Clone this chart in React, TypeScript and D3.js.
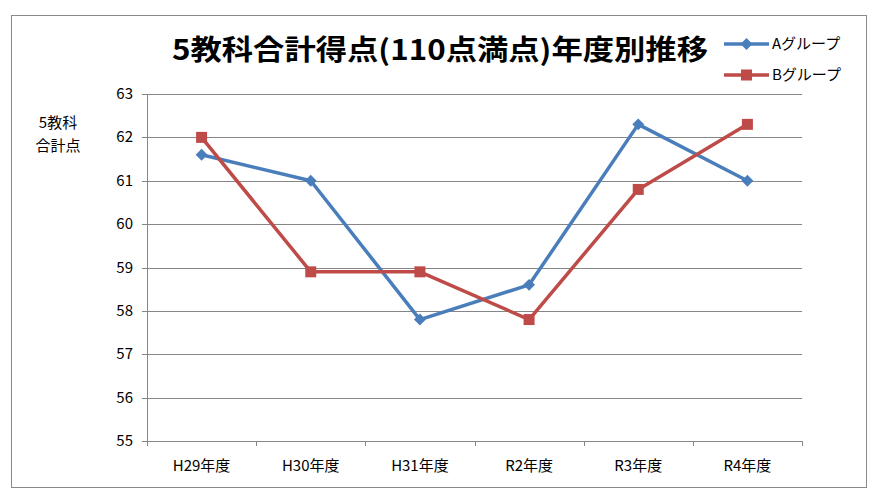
import React from "react";
import * as d3 from "d3";

const categories = ["H29年度", "H30年度", "H31年度", "R2年度", "R3年度", "R4年度"];
const seriesA = [61.6, 61.0, 57.8, 58.6, 62.3, 61.0];
const seriesB = [62.0, 58.9, 58.9, 57.8, 60.8, 62.3];
const seriesNames = ["Aグループ", "Bグループ"];
const yTicks = [55, 56, 57, 58, 59, 60, 61, 62, 63];
const title = "5教科合計得点(110点満点)年度別推移";
const yLabel = ["5教科", "合計点"];

const W = 880, H = 498;
const left = 147, right = 802, top = 94, bottom = 441;
const colA = "#4A7EBB", colB = "#BE4B48";
const font = "'Noto Sans CJK JP', 'Noto Sans', sans-serif";

export default function App() {
  const x = d3.scaleBand().domain(categories).range([left, right]);
  const y = d3.scaleLinear().domain([55, 63]).range([bottom, top]);
  const cx = (c: string) => (x(c) as number) + x.bandwidth() / 2;
  const line = d3.line<number>().x((_, i) => cx(categories[i])).y((d) => y(d));
  const diamond = d3.symbol().type(d3.symbolDiamond2).size(90);
  const square = d3.symbol().type(d3.symbolSquare).size(121);
  const grid = "#868686";
  const bounds = [...categories.map((c) => x(c) as number), right];

  return (
    <svg width={W} height={H} style={{ position: "absolute", left: 0, top: 0, background: "#fff" }} fontFamily={font}>
      <rect x={11.5} y={15.5} width={855} height={472} fill="#fff" stroke="#898989" strokeWidth={1} />
      <text x={440} y={60} textAnchor="middle" fontSize={28} fontWeight="bold" textLength={536} lengthAdjust="spacingAndGlyphs" fill="#000">{title}</text>
      {yTicks.map((t) => (
        <g key={t}>
          <line x1={left - 5} x2={right} y1={Math.round(y(t)) + 0.5} y2={Math.round(y(t)) + 0.5} stroke={grid} strokeWidth={1} />
          <text x={133} y={y(t) + 5} textAnchor="end" fontSize={15} fill="#000">{t}</text>
        </g>
      ))}
      <line x1={left + 0.5} x2={left + 0.5} y1={top} y2={bottom} stroke={grid} />
      {bounds.map((b, i) => (
        <line key={i} x1={Math.round(b) + 0.5} x2={Math.round(b) + 0.5} y1={bottom} y2={bottom + 5} stroke={grid} />
      ))}
      {categories.map((c) => (
        <text key={c} x={cx(c)} y={471} textAnchor="middle" fontSize={15} fill="#000">{c}</text>
      ))}
      {yLabel.map((t, i) => (
        <text key={t} x={58} y={128 + i * 23} textAnchor="middle" fontSize={15} fill="#000">{t}</text>
      ))}
      <path d={line(seriesA) as string} fill="none" stroke={colA} strokeWidth={3.5} strokeLinejoin="round" />
      <path d={line(seriesB) as string} fill="none" stroke={colB} strokeWidth={3.5} strokeLinejoin="round" />
      {seriesA.map((v, i) => (
        <path key={"a" + i} d={diamond() as string} transform={`translate(${cx(categories[i])},${y(v)})`} fill={colA} />
      ))}
      {seriesB.map((v, i) => (
        <path key={"b" + i} d={square() as string} transform={`translate(${cx(categories[i])},${y(v)})`} fill={colB} />
      ))}
      {[0, 1].map((i) => {
        const ly = 44 + i * 31;
        const col = i === 0 ? colA : colB;
        return (
          <g key={i}>
            <line x1={724} x2={769} y1={ly} y2={ly} stroke={col} strokeWidth={3.5} />
            <path d={(i === 0 ? diamond : square)() as string} transform={`translate(746.5,${ly})`} fill={col} />
            <text x={772} y={ly + 5} fontSize={15} fill="#000">{seriesNames[i]}</text>
          </g>
        );
      })}
    </svg>
  );
}
